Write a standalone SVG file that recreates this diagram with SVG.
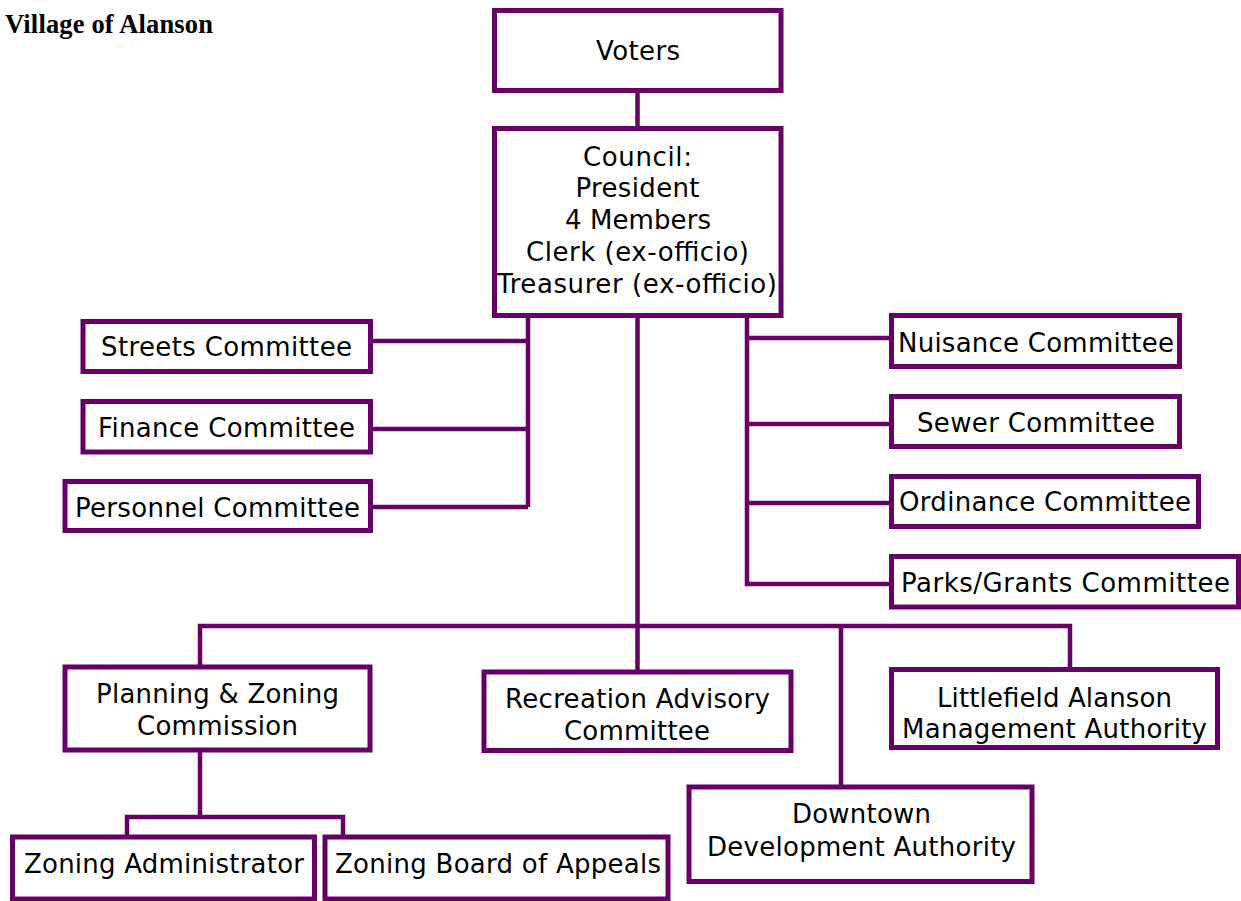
<svg xmlns="http://www.w3.org/2000/svg" width="1241" height="901" viewBox="0 0 1241 901">
<style>
.box{fill:#fff;stroke:#660066;stroke-width:5}
.ln{fill:none;stroke:#660066;stroke-width:4.5}
text{font-family:"DejaVu Sans","Liberation Sans",sans-serif;font-size:26px;fill:#000;text-anchor:middle}
.title{font-family:"Liberation Serif",serif;font-weight:bold;font-size:26.5px;text-anchor:start}
</style>
<rect width="1241" height="901" fill="#fff"/>
<text class="title" x="5" y="33" textLength="208" lengthAdjust="spacing">Village of Alanson</text>
<g id="connectors">
<path class="ln" d="M637.5 90 V128"/>
<path class="ln" d="M528 315 V507 M370 341 H528 M370 429 H528 M370 507 H528"/>
<path class="ln" d="M747 315 V584 H891 M747 338 H891 M747 424 H891 M747 503 H891"/>
<path class="ln" d="M637.5 315 V672"/>
<path class="ln" d="M200 667 V626 H1070 V669 M841 626 V787"/>
<path class="ln" d="M200 750 V817 M127 837 V817 H343 V837"/>
</g>
<g id="voters"><rect class="box" x="494.5" y="10.5" width="286.5" height="80"/><text x="638" y="60" textLength="84" lengthAdjust="spacing">Voters</text></g>
<g id="council"><rect class="box" x="494.5" y="128.5" width="286.5" height="187"/>
<text x="637.5" y="166" textLength="109" lengthAdjust="spacing">Council:</text><text x="637.5" y="197" textLength="124" lengthAdjust="spacing">President</text><text x="638" y="229" textLength="146" lengthAdjust="spacing">4 Members</text><text x="637.5" y="261" textLength="223" lengthAdjust="spacing">Clerk (ex-officio)</text><text x="637" y="293" textLength="280" lengthAdjust="spacing">Treasurer (ex-officio)</text></g>
<g id="streets"><rect class="box" x="83" y="321.5" width="287.5" height="50"/><text x="226.5" y="356" textLength="251" lengthAdjust="spacing">Streets Committee</text></g>
<g id="finance"><rect class="box" x="83" y="401.5" width="287.5" height="50.5"/><text x="226.5" y="437" textLength="257" lengthAdjust="spacing">Finance Committee</text></g>
<g id="personnel"><rect class="box" x="65" y="481.5" width="305.5" height="49"/><text x="217.5" y="517" textLength="285" lengthAdjust="spacing">Personnel Committee</text></g>
<g id="nuisance"><rect class="box" x="891.5" y="315.5" width="288" height="51"/><text x="1036" y="352" textLength="276" lengthAdjust="spacing">Nuisance Committee</text></g>
<g id="sewer"><rect class="box" x="891.5" y="396.5" width="288" height="50"/><text x="1036" y="432" textLength="238" lengthAdjust="spacing">Sewer Committee</text></g>
<g id="ordinance"><rect class="box" x="891.5" y="476.5" width="307" height="50"/><text x="1045" y="511" textLength="292" lengthAdjust="spacing">Ordinance Committee</text></g>
<g id="parks"><rect class="box" x="891.5" y="556.5" width="347" height="50.5"/><text x="1065.5" y="592" textLength="329" lengthAdjust="spacing">Parks/Grants Committee</text></g>
<g id="planning"><rect class="box" x="65" y="667" width="305" height="83"/><text x="217.5" y="703" textLength="243" lengthAdjust="spacing">Planning &amp; Zoning</text><text x="217.5" y="735" textLength="161" lengthAdjust="spacing">Commission</text></g>
<g id="recreation"><rect class="box" x="484" y="672" width="307" height="78.5"/><text x="637.5" y="708" textLength="265" lengthAdjust="spacing">Recreation Advisory</text><text x="637" y="740" textLength="146" lengthAdjust="spacing">Committee</text></g>
<g id="lama"><rect class="box" x="891.5" y="669.5" width="326" height="78"/><text x="1054.5" y="707" textLength="235" lengthAdjust="spacing">Littlefield Alanson</text><text x="1054.5" y="738" textLength="305" lengthAdjust="spacing">Management Authority</text></g>
<g id="dda"><rect class="box" x="689" y="787" width="343" height="94.5"/><text x="861.5" y="823" textLength="139" lengthAdjust="spacing">Downtown</text><text x="861.5" y="856" textLength="309" lengthAdjust="spacing">Development Authority</text></g>
<g id="zoning-admin"><rect class="box" x="12.5" y="837" width="302" height="62"/><text x="164" y="873" textLength="280" lengthAdjust="spacing">Zoning Administrator</text></g>
<g id="zba"><rect class="box" x="325" y="837" width="343" height="62"/><text x="498" y="873" textLength="326" lengthAdjust="spacing">Zoning Board of Appeals</text></g>
</svg>
